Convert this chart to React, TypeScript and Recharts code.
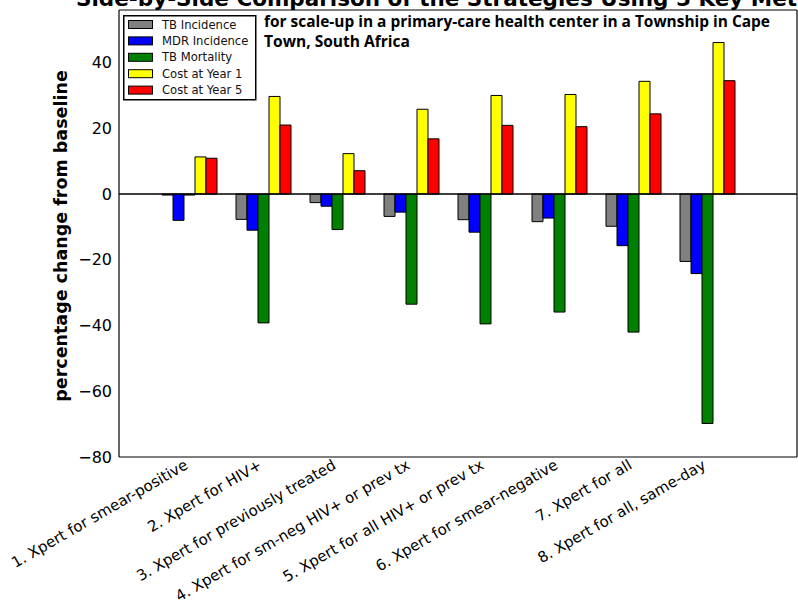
import React from "react";
import {
  BarChart,
  Bar,
  XAxis,
  YAxis,
  ReferenceLine,
  Legend,
} from "recharts";

const categories = [
  "1. Xpert for smear-positive",
  "2. Xpert for HIV+",
  "3. Xpert for previously treated",
  "4. Xpert for sm-neg HIV+ or prev tx",
  "5. Xpert for all HIV+ or prev tx",
  "6. Xpert for smear-negative",
  "7. Xpert for all",
  "8. Xpert for all, same-day",
];
const tbIncidence = [-0.3, -7.7, -2.6, -6.8, -7.8, -8.4, -9.8, -20.5];
const mdrIncidence = [-8.0, -11.0, -3.7, -5.5, -11.6, -7.3, -15.7, -24.2];
const tbMortality = [-0.3, -39.2, -10.8, -33.5, -39.5, -35.9, -42.0, -69.8];
const costYear1 = [11.3, 29.7, 12.3, 25.8, 30.0, 30.3, 34.3, 46.1];
const costYear5 = [10.9, 21.0, 7.1, 16.8, 20.9, 20.5, 24.4, 34.5];

const yTicks = [-80, -60, -40, -20, 0, 20, 40];
const yDomain: [number, number] = [-80, 56];

const series = [
  { key: "tbInc", name: "TB Incidence", color: "#808080", values: tbIncidence },
  { key: "mdrInc", name: "MDR Incidence", color: "#0000ff", values: mdrIncidence },
  { key: "tbMort", name: "TB Mortality", color: "#008000", values: tbMortality },
  { key: "cost1", name: "Cost at Year 1", color: "#ffff00", values: costYear1 },
  { key: "cost5", name: "Cost at Year 5", color: "#ff0000", values: costYear5 },
];

const data = categories.map((name, i) => {
  const row: Record<string, any> = { name };
  series.forEach((s) => {
    row[s.key] = s.values[i];
  });
  return row;
});

const FONT = "'DejaVu Sans', Verdana, sans-serif";
const xPad = { left: 34, right: 52 };

const fmt = (v: number) => (v < 0 ? "\u2212" + Math.abs(v) : String(v));

const XTick = (props: any) => {
  const { x, y, payload } = props;
  const ax = x - 1;
  const ay = y + 11;
  return (
    <text
      x={ax}
      y={ay}
      textAnchor="end"
      transform={`rotate(-30, ${ax}, ${ay})`}
      fontFamily={FONT}
      fontSize={15}
      fill="#000"
    >
      {payload.value}
    </text>
  );
};

const LegendBox = () => (
  <svg width={134} height={86} style={{ display: "block" }}>
    <rect x={0.75} y={0.75} width={132} height={84} fill="#fff" stroke="#000" strokeWidth={1.5} />
    {series.map((s, i) => {
      const cy = 9.5 + i * 16.4;
      return (
        <g key={s.key}>
          <rect x={5.5} y={cy - 4} width={24} height={8} fill={s.color} stroke="#000" strokeWidth={1} />
          <text x={39} y={cy + 4} fontFamily={FONT} fontSize={11.6} fill="#111">
            {s.name}
          </text>
        </g>
      );
    })}
  </svg>
);

export default function App() {
  return (
    <div style={{ position: "absolute", left: 0, top: 0, width: 798, height: 603, background: "#fff" }}>
      <BarChart
        width={798}
        height={603}
        data={data}
        margin={{ top: 10, right: 1, bottom: 0, left: 0 }}
        barCategoryGap={9}
        barGap={0}
      >
        <XAxis
          dataKey="name"
          interval={0}
          height={146}
          padding={xPad}
          tickLine={false}
          tickSize={0}
          tickMargin={0}
          axisLine={{ stroke: "#000", strokeWidth: 1.2 }}
          tick={<XTick />}
        />
        <XAxis
          xAxisId="bm"
          dataKey="name"
          orientation="bottom"
          mirror
          interval={0}
          padding={xPad}
          axisLine={false}
          tickLine={{ stroke: "#000" }}
          tickSize={6}
          tick={false}
        />
        <XAxis
          xAxisId="top"
          dataKey="name"
          orientation="top"
          mirror
          interval={0}
          padding={xPad}
          axisLine={{ stroke: "#000", strokeWidth: 1.2 }}
          tickLine={{ stroke: "#000" }}
          tickSize={6}
          tick={false}
        />
        <YAxis
          width={119}
          domain={yDomain}
          ticks={yTicks}
          allowDataOverflow
          tickLine={false}
          tickSize={0}
          tickMargin={7}
          tickFormatter={fmt}
          axisLine={{ stroke: "#000", strokeWidth: 1.2 }}
          tick={{ fontFamily: FONT, fontSize: 16, fill: "#000" }}
        />
        <YAxis
          yAxisId="lm"
          orientation="left"
          mirror
          domain={yDomain}
          ticks={yTicks}
          allowDataOverflow
          axisLine={false}
          tickLine={{ stroke: "#000" }}
          tickSize={6}
          tick={false}
        />
        <YAxis
          yAxisId="r"
          orientation="right"
          mirror
          domain={yDomain}
          ticks={yTicks}
          allowDataOverflow
          axisLine={{ stroke: "#000", strokeWidth: 1.2 }}
          tickLine={{ stroke: "#000" }}
          tickSize={6}
          tick={false}
        />
        {series.map((s) => (
          <Bar
            key={s.key}
            dataKey={s.key}
            name={s.name}
            fill={s.color}
            stroke="#000"
            strokeWidth={1}
            isAnimationActive={false}
          />
        ))}
        <ReferenceLine y={0} stroke="#000" strokeWidth={1.5} />
        <Legend
          layout="vertical"
          verticalAlign="middle"
          align="center"
          content={() => <LegendBox />}
          wrapperStyle={{ left: 123, top: 15, width: 134, height: 86, right: "auto", bottom: "auto" }}
        />
      </BarChart>
      <svg
        width={798}
        height={603}
        style={{ position: "absolute", left: 0, top: 0, pointerEvents: "none" }}
      >
        <text x={76} y={6} fontFamily={FONT} fontWeight="bold" fontSize={21.5} fill="#000">
          Side-by-Side Comparison of the Strategies Using 5 Key Metrics
        </text>
        <text
          x={264}
          y={27}
          fontFamily="'Open Sans', sans-serif"
          fontWeight="bold"
          fontSize={15.5}
          fill="#000"
          textLength={506}
          lengthAdjust="spacingAndGlyphs"
        >
          for scale-up in a primary-care health center in a Township in Cape
        </text>
        <text
          x={264}
          y={47}
          fontFamily="'Open Sans', sans-serif"
          fontWeight="bold"
          fontSize={15.5}
          fill="#000"
          textLength={146}
          lengthAdjust="spacingAndGlyphs"
        >
          Town, South Africa
        </text>
        <text
          x={67}
          y={236}
          transform="rotate(-90, 67, 236)"
          textAnchor="middle"
          fontFamily={FONT}
          fontWeight="bold"
          fontSize={17.5}
          fill="#000"
        >
          percentage change from baseline
        </text>
      </svg>
    </div>
  );
}
